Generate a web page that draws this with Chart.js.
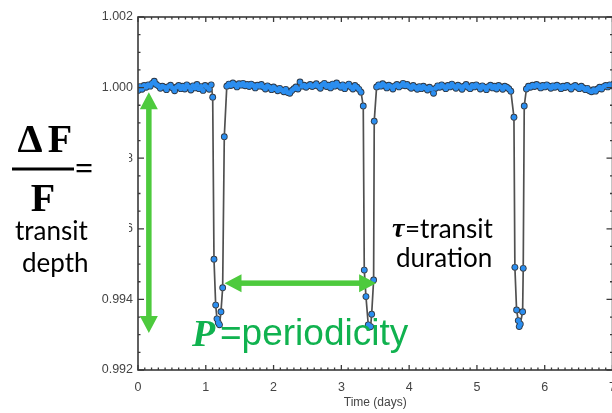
<!DOCTYPE html>
<html>
<head>
<meta charset="utf-8">
<script src="https://cdn.jsdelivr.net/npm/chart.js@4.4.1/dist/chart.umd.min.js"></script>
<style>
  html, body { margin: 0; padding: 0; background: #fff; overflow: hidden; }
  #lc { display: block; }
</style>
</head>
<body>
<canvas id="lc" width="617" height="413"></canvas>
<script>
// Light curve: time (days) and relative flux, out-of-transit runs A-D and transits 1-3
const tA = [0.00,0.03,0.06,0.09,0.12,0.15,0.18,0.21,0.24,0.27,
            0.30,0.33,0.36,0.39,0.42,0.45,0.48,0.51,0.54,0.57,
            0.60,0.63,0.66,0.69,0.72,0.75,0.78,0.81,0.84,0.87,
            0.90,0.93,0.96,0.99,1.02,1.05,1.08];
const fA = [0.99992,1.00003,0.99995,1.00006,1.00001,1.00008,1.00004,1.00012,1.00018,1.00009,
            1.00005,0.99998,1.00004,1.00001,0.99994,1.00003,1.00007,0.99999,0.99991,1.00002,
            1.00006,0.99997,1.00004,0.99996,1.00008,1.00002,0.99993,1.00005,0.99999,1.00009,
            0.99997,1.00003,0.99992,1.00006,1.00001,0.99995,1.00008];

const t1 = [1.102,1.121,1.146,1.165,1.184,1.202,1.224,1.249,1.273];
const f1 = [0.99973,0.99514,0.99384,0.99345,0.99334,0.99328,0.99365,0.99433,0.99861];

const tB = [1.31,1.34,1.37,1.40,1.43,1.46,1.49,1.52,1.55,1.58,
            1.61,1.64,1.67,1.70,1.73,1.76,1.79,1.82,1.85,1.88,
            1.91,1.94,1.97,2.00,2.03,2.06,2.09,2.12,2.15,2.18,
            2.21,2.24,2.27,2.30,2.33,2.36,2.39,2.42,2.45,2.48,
            2.51,2.54,2.57,2.60,2.63,2.66,2.69,2.72,2.75,2.78,
            2.81,2.84,2.87,2.90,2.93,2.96,2.99,3.02,3.05,3.08,
            3.11,3.14,3.17,3.20,3.23,3.26,3.29];
const fB = [1.00004,1.00010,1.00006,1.00013,1.00008,1.00002,1.00011,1.00007,1.00012,1.00005,
            1.00009,1.00003,1.00010,1.00006,0.99999,1.00007,1.00004,1.00009,1.00002,0.99996,
            1.00005,1.00001,0.99994,1.00002,0.99997,0.99991,0.99998,0.99993,0.99988,0.99995,
            0.99986,0.99984,0.99992,0.99997,1.00002,0.99996,1.00016,1.00004,1.00007,1.00001,
            1.00005,1.00009,1.00003,1.00006,1.00011,1.00004,0.99998,1.00008,1.00012,1.00003,
            1.00007,0.99999,1.00010,1.00004,1.00013,1.00006,1.00001,1.00008,0.99997,1.00005,
            1.00010,1.00002,0.99996,1.00006,1.00001,0.99995,0.99987];

const t2 = [3.323,3.338,3.363,3.397,3.415,3.432,3.447,3.476,3.485];
const f2 = [0.99948,0.99483,0.99408,0.99328,0.99322,0.99323,0.99358,0.99455,0.99905];

const tC = [3.52,3.55,3.58,3.61,3.64,3.67,3.70,3.73,3.76,3.79,
            3.82,3.85,3.88,3.91,3.94,3.97,4.00,4.03,4.06,4.09,
            4.12,4.15,4.18,4.21,4.24,4.27,4.30,4.33,4.36,4.39,
            4.42,4.45,4.48,4.51,4.54,4.57,4.60,4.63,4.66,4.69,
            4.72,4.75,4.78,4.81,4.84,4.87,4.90,4.93,4.96,4.99,
            5.02,5.05,5.08,5.11,5.14,5.17,5.20,5.23,5.26,5.29,
            5.32,5.35,5.38,5.41,5.44,5.47,5.50];
const fC = [1.00002,1.00008,1.00004,1.00011,1.00006,0.99999,1.00007,1.00003,0.99996,1.00005,
            1.00009,1.00002,1.00006,1.00012,1.00005,1.00009,1.00003,0.99998,1.00006,1.00001,
            0.99995,1.00003,0.99997,1.00004,0.99999,0.99993,1.00001,0.99996,0.99984,0.99998,
            1.00005,1.00001,1.00008,1.00003,0.99997,1.00006,1.00002,1.00010,1.00004,0.99998,
            1.00007,1.00003,0.99995,1.00004,1.00009,1.00001,0.99997,1.00006,1.00002,1.00008,
            1.00003,0.99996,1.00005,1.00001,0.99994,1.00003,1.00007,0.99999,1.00004,0.99996,
            1.00006,1.00002,0.99995,1.00004,1.00001,0.99997,0.99990];

const t3 = [5.546,5.560,5.585,5.610,5.624,5.640,5.674,5.683,5.698];
const f3 = [0.99916,0.99491,0.99370,0.99340,0.99323,0.99330,0.99365,0.99488,0.99948];

const tD = [5.73,5.76,5.79,5.82,5.85,5.88,5.91,5.94,5.97,6.00,
            6.03,6.06,6.09,6.12,6.15,6.18,6.21,6.24,6.27,6.30,
            6.33,6.36,6.39,6.42,6.45,6.48,6.51,6.54,6.57,6.60,
            6.63,6.66,6.69,6.72,6.75,6.78,6.81,6.84,6.87,6.90,
            6.93,6.96,6.99,7.02];
const fD = [0.99996,1.00004,1.00001,1.00007,1.00003,1.00009,1.00005,0.99999,1.00006,1.00002,
            1.00008,1.00004,0.99998,1.00005,1.00001,1.00007,1.00003,0.99997,1.00004,1.00000,
            1.00006,1.00002,0.99996,1.00003,1.00006,1.00001,0.99997,1.00004,0.99999,0.99994,
            0.99998,0.99991,0.99988,0.99994,0.99990,0.99996,1.00001,0.99996,1.00003,1.00006,
            1.00002,1.00008,1.00005,1.00011];

// axis ticks
const xTicks = [0, 1, 2, 3, 4, 5, 6, 7];
const yTicks = [0.992, 0.994, 0.996, 0.998, 1.000, 1.002];

// arrows: depth (time, flux top/bottom) and period (flux, time from/to)
const depthArrow = { t: 0.16, top: 0.99987, bottom: 0.99305 };
const periodArrow = { flux: 0.99446, from: 1.276, to: 3.513 };

const times = [...tA, ...t1, ...tB, ...t2, ...tC, ...t3, ...tD];
const flux = [...fA, ...f1, ...fB, ...f2, ...fC, ...f3, ...fD];
const points = times.map((t, i) => ({ x: t, y: flux[i] }));

const ARROW_GREEN = '#4dca3d';
const TEXT_GREEN = '#10b24f';

function arrow(ctx, x1, y1, x2, y2) {
  const w = 5.5, head = 17, half = 9;
  const len = Math.hypot(x2 - x1, y2 - y1);
  ctx.save();
  ctx.translate(x1, y1);
  ctx.rotate(Math.atan2(y2 - y1, x2 - x1));
  ctx.fillRect(head - 1, -w / 2, len - 2 * head + 2, w);
  ctx.beginPath();
  ctx.moveTo(0, 0); ctx.lineTo(head, -half); ctx.lineTo(head, half); ctx.closePath();
  ctx.moveTo(len, 0); ctx.lineTo(len - head, -half); ctx.lineTo(len - head, half); ctx.closePath();
  ctx.fill();
  ctx.restore();
}

// box frame with inward ticks on all four sides
const frame = {
  id: 'frame',
  afterDatasetsDraw(chart) {
    const { ctx, chartArea: a, scales: { x, y } } = chart;
    ctx.save();
    ctx.strokeStyle = '#3a3a3a';
    ctx.lineWidth = 1.6;
    ctx.strokeRect(a.left, a.top, a.right - a.left, a.bottom - a.top);
    ctx.lineWidth = 1.3;
    ctx.beginPath();
    for (let i = 0; i <= 70; i++) {
      const px = x.getPixelForValue(i / 10);
      const len = i % 10 === 0 ? 5 : 2.5;
      ctx.moveTo(px, a.bottom); ctx.lineTo(px, a.bottom - len);
      ctx.moveTo(px, a.top); ctx.lineTo(px, a.top + len);
    }
    for (let i = 0; i <= 20; i++) {
      const py = y.getPixelForValue(0.992 + i * 0.0005);
      const len = i % 4 === 0 ? 6 : 2.5;
      ctx.moveTo(a.left, py); ctx.lineTo(a.left + len, py);
      ctx.moveTo(a.right, py); ctx.lineTo(a.right - len, py);
    }
    ctx.stroke();
    ctx.restore();
  }
};

// labels and arrows drawn over the plot
const notes = {
  id: 'notes',
  afterDraw(chart) {
    const { ctx, scales: { x, y } } = chart;
    ctx.save();

    ctx.fillStyle = ARROW_GREEN;
    const ax = x.getPixelForValue(depthArrow.t);
    arrow(ctx, ax, y.getPixelForValue(depthArrow.top), ax, y.getPixelForValue(depthArrow.bottom));
    const ay = y.getPixelForValue(periodArrow.flux);
    arrow(ctx, x.getPixelForValue(periodArrow.from), ay, x.getPixelForValue(periodArrow.to), ay);

    // dF/F block
    ctx.fillStyle = '#fff';
    ctx.fillRect(0, 100, 129, 190);
    ctx.fillStyle = '#000';
    ctx.textBaseline = 'alphabetic';
    ctx.textAlign = 'center';
    ctx.font = 'bold 40px "Liberation Serif"';
    ctx.fillText('\u0394', 30, 152);
    ctx.fillText('F', 60, 152);
    ctx.fillText('F', 43, 211);
    ctx.fillRect(12, 167.5, 62, 3);
    ctx.font = 'bold 32px "Liberation Serif"';
    ctx.fillText('=', 84, 179);

    ctx.textAlign = 'left';
    ctx.font = '26px Lato';
    ctx.fillText('transit', 15, 240);
    ctx.fillText('depth', 22, 272);

    ctx.font = 'bold italic 28px "Liberation Serif"';
    ctx.fillText('\u03C4', 392, 237);
    ctx.font = '26px Lato';
    ctx.fillText('=transit', 405, 238);
    ctx.fillText('duration', 396, 267);

    ctx.fillStyle = TEXT_GREEN;
    ctx.font = 'bold italic 38px "Liberation Serif"';
    ctx.fillText('P', 192, 346);
    ctx.font = '37px "Liberation Sans"';
    ctx.fillText('=periodicity', 220, 345);
    ctx.restore();
  }
};

new Chart(document.getElementById('lc'), {
  type: 'line',
  data: {
    datasets: [{
      // flux samples joined by a thin line
      data: points,
      order: 1,
      borderColor: '#505050',
      borderWidth: 1.7,
      tension: 0,
      pointRadius: 2.5,
      pointBackgroundColor: '#2b8ef0',
      pointBorderWidth: 0
    }, {
      // dark rim under the markers
      data: points,
      order: 2,
      showLine: false,
      pointRadius: 3.4,
      pointBackgroundColor: '#2b3644',
      pointBorderWidth: 0
    }]
  },
  options: {
    responsive: false,
    devicePixelRatio: 1,
    animation: false,
    events: [],
    layout: { padding: { left: 0, right: 4.5, top: 17, bottom: 0 } },
    plugins: { legend: { display: false }, tooltip: { enabled: false } },
    scales: {
      x: {
        type: 'linear',
        min: 0,
        max: 7,
        grid: { display: false, drawTicks: false },
        border: { display: false },
        afterBuildTicks: s => { s.ticks = xTicks.map(v => ({ value: v })); },
        ticks: {
          color: '#444',
          font: { family: 'Liberation Sans', size: 12.5 },
          padding: 10,
          maxRotation: 0,
          autoSkip: false
        },
        title: {
          display: true,
          text: 'Time (days)',
          color: '#444',
          font: { family: 'Liberation Sans', size: 12 },
          padding: { top: 0, bottom: 3 }
        },
        afterFit: s => { s.height = 43; s.paddingLeft = 0; s.paddingRight = 0; }
      },
      y: {
        min: 0.992,
        max: 1.002,
        grid: { display: false, drawTicks: false },
        border: { display: false },
        afterBuildTicks: s => { s.ticks = yTicks.map(v => ({ value: v })); },
        ticks: {
          color: '#444',
          font: { family: 'Liberation Sans', size: 12.5 },
          padding: 5,
          autoSkip: false,
          callback: v => v.toFixed(3)
        },
        afterFit: s => { s.width = 138; s.paddingTop = 0; s.paddingBottom = 0; }
      }
    }
  },
  plugins: [frame, notes]
});
</script>
</body>
</html>
